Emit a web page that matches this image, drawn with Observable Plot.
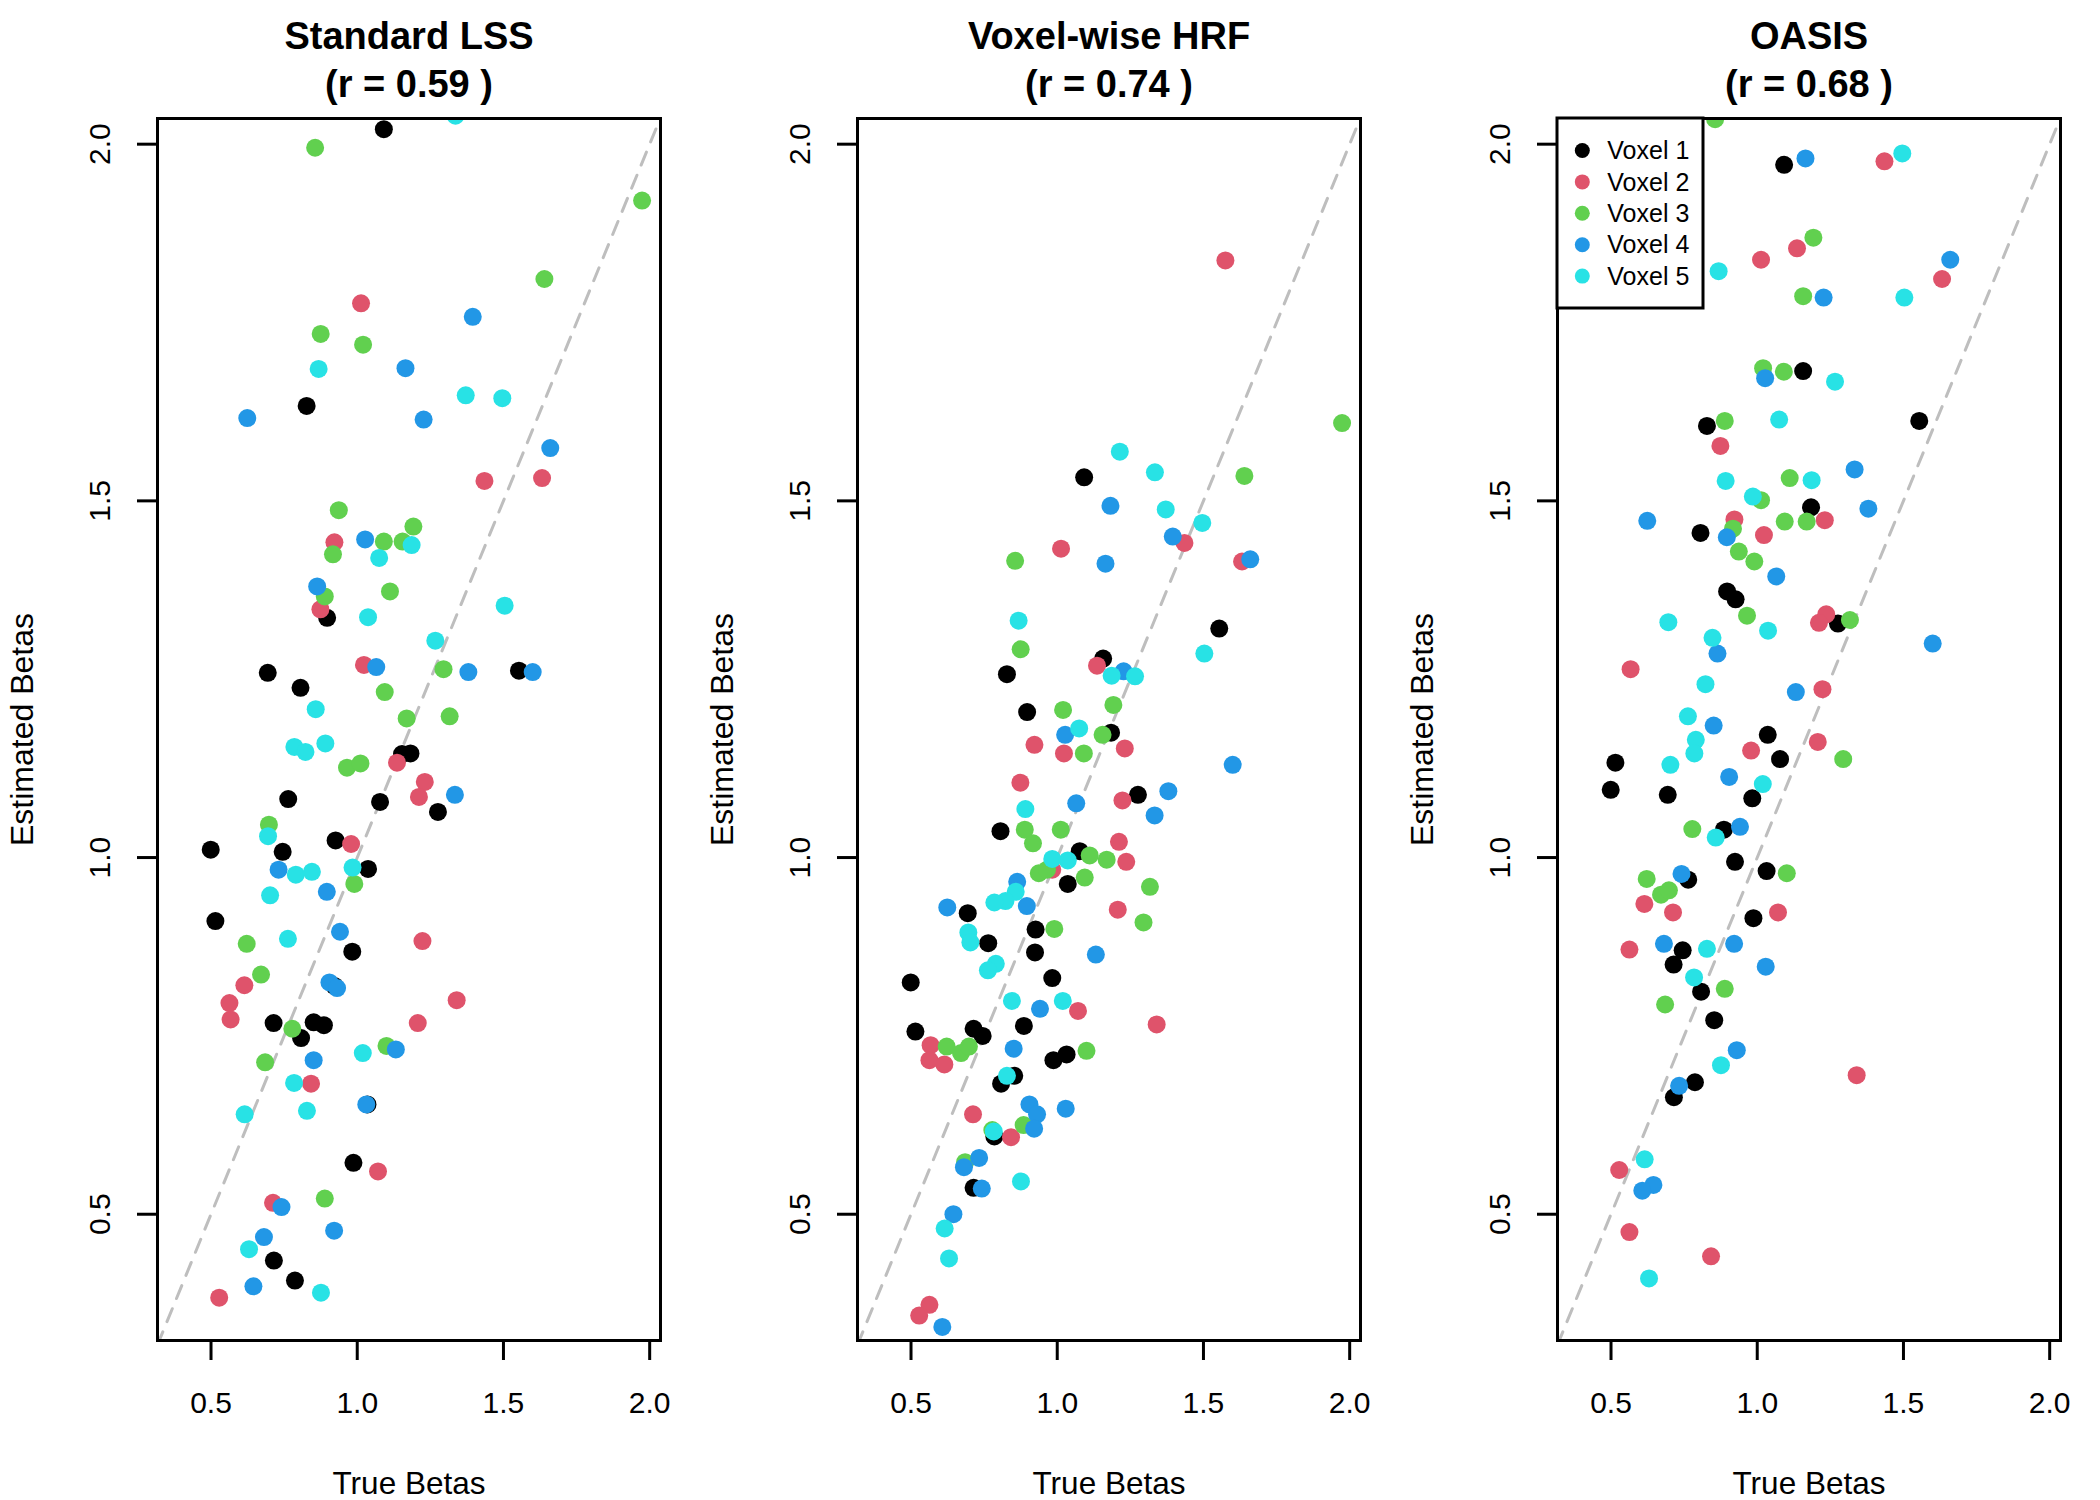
<!DOCTYPE html>
<html><head><meta charset="utf-8">
<script src="https://cdn.jsdelivr.net/npm/d3@7"></script>
<script src="https://cdn.jsdelivr.net/npm/@observablehq/plot@0.6"></script>
<style>
html,body{margin:0;padding:0;background:#fff;}
#row{display:flex;width:2100px;height:1500px;}
</style></head><body><div id="row"></div>
<script>
const voxelNames = ["Voxel 1","Voxel 2","Voxel 3","Voxel 4","Voxel 5"];
const voxelColors = ["#000000","#DF536B","#61D04F","#2297E6","#28E2E5"];
const xTicks = [0.5, 1.0, 1.5, 2.0];
const yTicks = [0.5, 1.0, 1.5, 2.0];
const xLim = [0.317, 2.037];
const yLim = [0.323, 2.036];
const panelTitles = ["Standard LSS", "Voxel-wise HRF", "OASIS"];
const panelR = ["0.59", "0.74", "0.68"];
const xLabel = "True Betas";
const yLabel = "Estimated Betas";

// [true beta, estimated beta]
const lss_v1 = [[1.091,2.021],[0.827,1.633],[0.897,1.336],[0.694,1.259],[1.553,1.262],[0.806,1.238],[1.153,1.145],[1.182,1.146],[0.764,1.082],[1.078,1.078],[1.276,1.064],[0.499,1.011],[0.745,1.008],[0.926,1.024],[1.037,0.984],[0.515,0.911],[0.983,0.868],[0.922,0.820],[0.714,0.768],[0.808,0.747],[0.851,0.769],[0.886,0.765],[1.035,0.654],[0.987,0.572],[0.715,0.435],[0.787,0.407]];
const lss_v2 = [[1.013,1.777],[1.435,1.528],[1.632,1.532],[0.922,1.442],[0.874,1.348],[1.023,1.270],[1.136,1.133],[1.231,1.106],[1.211,1.085],[0.979,1.019],[1.223,0.883],[0.614,0.821],[0.563,0.796],[0.567,0.773],[1.340,0.800],[1.207,0.768],[0.842,0.683],[1.071,0.560],[0.712,0.516],[0.528,0.383]];
const lss_v3 = [[0.856,1.995],[1.974,1.921],[1.640,1.811],[0.875,1.734],[1.020,1.719],[0.937,1.487],[0.917,1.425],[1.091,1.443],[1.155,1.443],[1.192,1.464],[0.889,1.366],[1.112,1.373],[1.295,1.264],[1.094,1.232],[1.169,1.195],[1.316,1.198],[0.965,1.126],[1.011,1.132],[0.698,1.046],[0.990,0.963],[0.622,0.879],[0.671,0.836],[0.778,0.760],[1.100,0.736],[0.685,0.713],[0.889,0.522]];
const lss_v4 = [[1.395,1.758],[1.165,1.686],[0.624,1.616],[1.227,1.614],[1.660,1.574],[1.027,1.446],[0.863,1.380],[1.065,1.267],[1.380,1.260],[1.600,1.260],[1.334,1.088],[0.731,0.983],[0.896,0.952],[0.941,0.896],[0.905,0.825],[0.931,0.817],[1.132,0.731],[0.851,0.716],[1.031,0.654],[0.741,0.510],[0.681,0.468],[0.921,0.477],[0.645,0.399]];
const lss_v5 = [[1.336,2.040],[0.868,1.685],[1.371,1.648],[1.496,1.644],[1.186,1.438],[1.075,1.420],[1.037,1.337],[1.504,1.353],[1.267,1.304],[0.858,1.208],[0.785,1.155],[0.823,1.148],[0.891,1.160],[0.695,1.030],[0.790,0.976],[0.845,0.980],[0.984,0.986],[0.702,0.947],[0.763,0.886],[1.019,0.726],[0.784,0.684],[0.615,0.640],[0.828,0.645],[0.630,0.451],[0.876,0.390]];

const hrf_v1 = [[1.092,1.533],[1.554,1.321],[0.828,1.257],[1.157,1.279],[0.897,1.204],[1.184,1.175],[1.276,1.088],[0.806,1.037],[1.077,1.009],[1.036,0.963],[0.694,0.922],[0.926,0.899],[0.764,0.880],[0.924,0.867],[0.499,0.825],[0.983,0.831],[0.515,0.756],[0.714,0.760],[0.745,0.750],[0.886,0.764],[0.987,0.716],[1.032,0.724],[0.808,0.683],[0.853,0.694],[0.785,0.609],[0.714,0.537]];
const hrf_v2 = [[1.575,1.837],[1.435,1.441],[1.013,1.433],[1.632,1.415],[1.136,1.269],[0.922,1.158],[1.023,1.146],[1.231,1.153],[0.874,1.105],[1.223,1.080],[1.211,1.022],[1.236,0.994],[0.983,0.983],[1.207,0.927],[1.071,0.785],[1.340,0.766],[0.567,0.737],[0.563,0.716],[0.614,0.710],[0.712,0.640],[0.842,0.608],[0.563,0.373],[0.528,0.358]];
const hrf_v3 = [[1.974,1.609],[1.640,1.535],[0.856,1.416],[0.875,1.292],[1.020,1.207],[1.192,1.214],[1.155,1.172],[1.091,1.146],[0.889,1.039],[0.917,1.020],[1.012,1.039],[1.111,1.003],[1.169,0.997],[0.937,0.978],[0.965,0.983],[1.094,0.972],[1.317,0.959],[1.295,0.909],[0.990,0.900],[0.622,0.735],[0.671,0.726],[0.698,0.735],[1.100,0.729],[0.778,0.618],[0.885,0.625],[0.685,0.573]];
const hrf_v4 = [[1.182,1.493],[1.395,1.450],[1.165,1.412],[1.660,1.418],[1.227,1.261],[1.027,1.172],[1.600,1.130],[1.380,1.093],[1.065,1.076],[1.333,1.059],[0.863,0.966],[0.896,0.932],[0.624,0.930],[1.132,0.864],[0.941,0.788],[0.851,0.732],[0.905,0.654],[0.931,0.640],[1.029,0.648],[0.921,0.620],[0.733,0.579],[0.681,0.566],[0.742,0.536],[0.645,0.500],[0.607,0.342]];
const hrf_v5 = [[1.214,1.569],[1.334,1.540],[1.371,1.488],[1.496,1.469],[0.868,1.332],[1.503,1.286],[1.186,1.255],[1.266,1.254],[1.075,1.181],[0.891,1.068],[0.983,0.998],[1.036,0.996],[0.858,0.952],[0.823,0.939],[0.785,0.937],[0.696,0.895],[0.703,0.881],[0.790,0.851],[0.763,0.842],[0.845,0.799],[1.019,0.799],[0.828,0.694],[0.783,0.616],[0.876,0.546],[0.615,0.480],[0.630,0.438]];

const oasis_v1 = [[1.092,1.971],[1.157,1.682],[0.828,1.605],[1.554,1.612],[1.184,1.491],[0.806,1.455],[0.897,1.373],[0.926,1.362],[1.276,1.328],[1.036,1.172],[1.078,1.138],[0.515,1.133],[0.499,1.095],[0.694,1.088],[0.983,1.083],[0.886,1.039],[0.924,0.994],[1.032,0.981],[0.764,0.969],[0.987,0.915],[0.745,0.870],[0.714,0.850],[0.808,0.812],[0.853,0.772],[0.787,0.685],[0.715,0.664]];
const oasis_v2 = [[1.435,1.976],[1.136,1.854],[1.013,1.838],[1.632,1.811],[0.874,1.577],[0.922,1.474],[1.231,1.473],[1.023,1.452],[1.236,1.341],[1.211,1.329],[0.567,1.264],[1.223,1.236],[0.979,1.150],[1.207,1.162],[0.614,0.935],[0.712,0.923],[1.071,0.923],[0.563,0.871],[1.340,0.695],[0.528,0.562],[0.563,0.475],[0.842,0.441]];
const oasis_v3 = [[0.856,2.035],[1.192,1.869],[1.157,1.787],[1.020,1.686],[1.091,1.681],[0.889,1.612],[1.111,1.532],[1.013,1.501],[0.917,1.461],[1.094,1.471],[1.169,1.471],[0.937,1.429],[0.990,1.415],[0.965,1.339],[1.317,1.333],[1.294,1.138],[0.778,1.040],[1.101,0.978],[0.622,0.970],[0.671,0.948],[0.698,0.954],[0.889,0.816],[0.685,0.794]];
const oasis_v4 = [[1.165,1.980],[1.660,1.838],[1.227,1.785],[1.027,1.672],[1.333,1.544],[1.380,1.489],[0.624,1.472],[0.896,1.449],[1.065,1.394],[1.600,1.300],[0.864,1.286],[1.132,1.232],[0.851,1.185],[0.904,1.113],[0.941,1.043],[0.741,0.977],[0.681,0.879],[0.921,0.879],[1.029,0.847],[0.930,0.730],[0.733,0.680],[0.645,0.541],[0.607,0.533]];
const oasis_v5 = [[1.496,1.987],[0.868,1.822],[1.503,1.785],[1.266,1.667],[1.075,1.614],[0.892,1.528],[1.186,1.529],[0.985,1.506],[0.696,1.330],[1.037,1.318],[0.847,1.308],[0.823,1.243],[0.763,1.198],[0.790,1.165],[0.785,1.146],[0.703,1.130],[1.019,1.103],[0.858,1.028],[0.828,0.872],[0.784,0.832],[0.876,0.709],[0.615,0.577],[0.630,0.410]];

const panels = [
  [lss_v1, lss_v2, lss_v3, lss_v4, lss_v5],
  [hrf_v1, hrf_v2, hrf_v3, hrf_v4, hrf_v5],
  [oasis_v1, oasis_v2, oasis_v3, oasis_v4, oasis_v5]
];

const FONT = '"Liberation Sans", Arial, Helvetica, sans-serif';
const fmt = d3.format(".1f");

function makePanel(i) {
  const data = panels[i].flatMap((pts, v) => pts.map(([t, e]) => ({t, e, voxel: voxelNames[v]})));
  const diag = xLim.map(v => ({a: v}));
  const svg = Plot.plot({
    width: 700, height: 1500,
    marginTop: 118, marginBottom: 160, marginLeft: 157, marginRight: 40,
    style: {fontFamily: FONT, background: "white", color: "black"},
    x: {domain: xLim},
    y: {domain: yLim},
    color: {domain: voxelNames, range: voxelColors},
    marks: [
      Plot.line(diag, {x: "a", y: "a", stroke: "#BEBEBE", strokeWidth: 3, strokeDasharray: "14,11", clip: true}),
      Plot.dot(data, {x: "t", y: "e", fill: "voxel", r: 9, clip: true}),
      Plot.frame({stroke: "black", strokeWidth: 3}),
      Plot.axisX({ticks: xTicks, tickSize: 20, tickPadding: 31, fontSize: 30, strokeWidth: 3, tickFormat: fmt, label: null}),
      Plot.axisY({ticks: yTicks, tickSize: 20, strokeWidth: 3, tickFormat: () => "", label: null}),
      Plot.text(yTicks, {y: d => d, text: d => fmt(d), frameAnchor: "left", dx: -48, rotate: -90, lineAnchor: "bottom", textAnchor: "middle", fontSize: 30}),
      Plot.text([xLabel], {text: d => d, frameAnchor: "bottom", dy: 153, lineAnchor: "bottom", fontSize: 31.5}),
      Plot.text([yLabel], {text: d => d, frameAnchor: "left", dx: -125, rotate: -90, lineAnchor: "bottom", textAnchor: "middle", fontSize: 32}),
      Plot.text([panelTitles[i]], {text: d => d, frameAnchor: "top", dy: -70, lineAnchor: "bottom", fontWeight: "bold", fontSize: 38}),
      Plot.text([`(r = ${panelR[i]} )`], {text: d => d, frameAnchor: "top", dy: -22, lineAnchor: "bottom", fontWeight: "bold", fontSize: 38})
    ]
  });
  return svg;
}

const row = document.getElementById("row");
const svgs = [0, 1, 2].map(i => { const s = makePanel(i); row.appendChild(s); return s; });

// legend in third panel (top-left corner of plotting region)
const lg = d3.select(svgs[2]).append("g").attr("font-family", FONT).attr("text-anchor", "start");
const boxX = 157, boxY = 118, boxW = 146, boxH = 190;
lg.append("rect").attr("x", boxX).attr("y", boxY).attr("width", boxW).attr("height", boxH)
  .attr("fill", "white").attr("stroke", "black").attr("stroke-width", 3);
voxelNames.forEach((name, k) => {
  const cy = 150.5 + k * 31.4;
  lg.append("circle").attr("cx", 182.3).attr("cy", cy).attr("r", 7.5).attr("fill", voxelColors[k]);
  lg.append("text").attr("x", 207.3).attr("y", cy).attr("dy", "0.35em").attr("font-size", 25)
    .attr("text-anchor", "start").attr("fill", "black").text(name);
});
</script></body></html>
